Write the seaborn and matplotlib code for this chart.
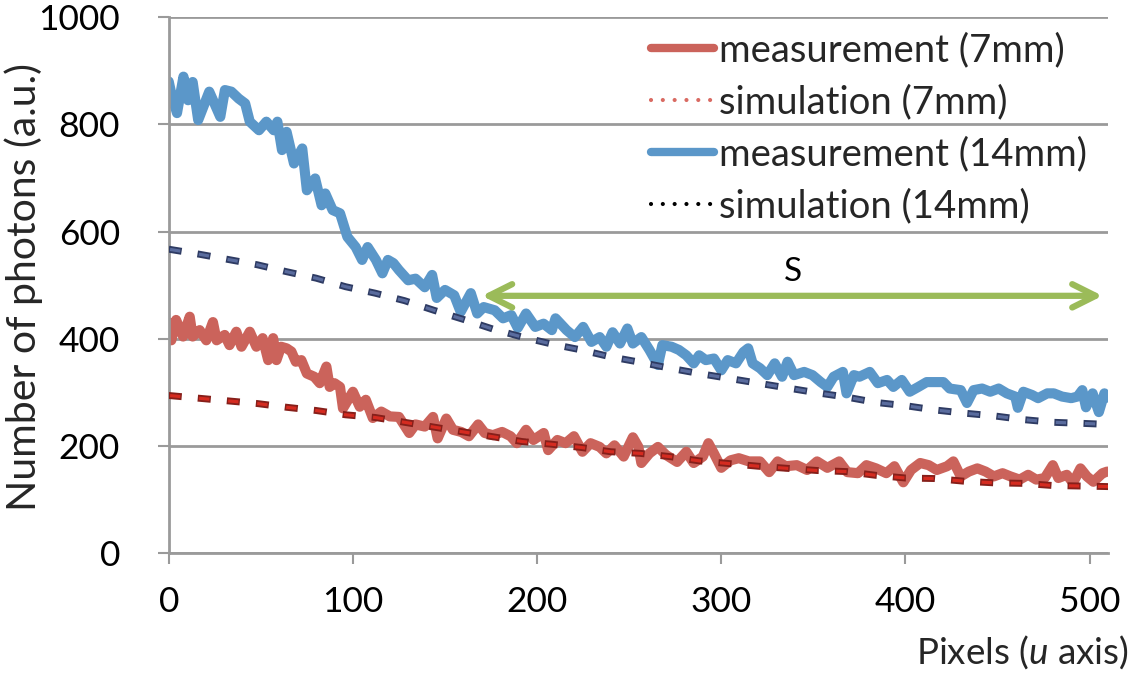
import matplotlib
matplotlib.use("Agg")
import matplotlib.pyplot as plt
from matplotlib.lines import Line2D
import seaborn as sns
import pandas as pd

# Measured photon counts along the u axis (pixel position, counts)
meas14_x = [0, 1.8, 4.5, 8, 10.5, 13, 16, 19.5, 22, 28, 30.5, 34, 38, 41.5, 44, 49, 53, 57, 59,
            61.5, 64, 68, 72.5, 75, 79.5, 83, 85, 89, 93, 97, 101.5, 105, 108, 112.5, 116, 119,
            122, 125, 130, 134, 139, 143, 145.5, 150, 155, 158.5, 164, 167.5, 171, 177, 181.5,
            186, 189.5, 194, 199, 203.5, 208, 210, 216, 220.5, 225, 229.5, 234, 237.6, 241, 245,
            249, 252, 256.6, 261, 265.6, 268, 273, 277, 281, 285, 288, 291.6, 296, 300, 303.5,
            308, 312, 314.6, 317, 321, 325, 329, 333, 336, 339.5, 345, 349.5, 354, 357.6, 361,
            366, 368, 372, 375, 380.6, 385, 390, 393.4, 398, 402.3, 407, 411.5, 416, 420.6, 424,
            430, 433.4, 437, 441.6, 446, 450.6, 455, 459.6, 461, 464, 468.7, 472, 477, 480.5,
            485, 490, 493.4, 496, 498, 501.6, 505, 508, 510]
meas14_y = [880, 851, 821, 889, 845, 879, 808, 839, 861, 814, 864, 861, 848, 839, 805, 789, 805,
            789, 805, 752, 786, 727, 755, 677, 699, 649, 671, 640, 634, 590, 571, 547, 571, 547,
            522, 547, 541, 528, 509, 512, 496, 519, 476, 491, 481, 450, 485, 447, 459, 453, 438,
            444, 420, 447, 422, 428, 416, 438, 416, 403, 422, 394, 403, 385, 412, 391, 419, 391,
            403, 379, 351, 388, 385, 379, 369, 354, 369, 360, 363, 341, 360, 354, 375, 382, 354,
            345, 332, 354, 329, 357, 332, 338, 332, 319, 310, 329, 338, 298, 332, 329, 338, 317,
            323, 310, 323, 301, 310, 319, 319, 319, 307, 304, 280, 304, 307, 301, 307, 298, 292,
            271, 301, 295, 289, 298, 298, 292, 289, 292, 304, 272, 298, 263, 298, 290]

meas7_x = [0, 1.4, 4, 7.8, 11.4, 13, 16.8, 20.4, 24, 26, 30.4, 33, 36.7, 39.5, 44, 47.6, 51, 54,
           56.7, 58.5, 61, 64, 66.6, 69, 72, 75, 79, 82, 85.6, 87.4, 90, 93, 94.6, 97.4, 100,
           103.7, 107, 110.8, 115.4, 120, 125, 130.6, 134, 139, 143.5, 146, 150.7, 154.3, 158.8,
           163, 168, 171.6, 176, 181, 185.6, 189, 194, 198, 203.6, 206, 211, 215.5, 220, 224.6,
           229, 234, 237.6, 242, 247, 252, 255, 256.6, 261, 265.6, 270, 276, 281, 285, 290, 293,
           296, 300, 305, 309.5, 315, 321, 326, 330.6, 335, 341, 346.6, 352, 357.6, 364, 368.4,
           374.2, 378.8, 384, 389.6, 394, 398.8, 403, 408, 412.6, 417, 422.6, 426, 430, 434.4,
           439, 443.5, 448, 452.7, 457, 462, 466.6, 471, 475.6, 480, 483, 487.6, 491, 495,
           498.5, 502, 507, 509.5]
meas7_y = [430, 397, 435, 404, 441, 404, 416, 397, 431, 397, 407, 388, 413, 385, 413, 385, 401,
           360, 401, 360, 385, 382, 376, 357, 360, 335, 329, 317, 348, 310, 317, 310, 270, 286,
           301, 273, 286, 252, 264, 255, 254, 224, 240, 236, 254, 214, 251, 230, 226, 218, 240,
           224, 220, 226, 218, 205, 230, 211, 224, 192, 211, 205, 218, 189, 205, 198, 186, 201,
           180, 216, 198, 168, 186, 198, 183, 170, 189, 168, 180, 205, 186, 159, 173, 177, 171,
           171, 151, 171, 162, 164, 155, 171, 159, 171, 151, 149, 164, 158, 149, 162, 132, 155,
           168, 164, 155, 162, 171, 143, 152, 158, 152, 143, 149, 143, 137, 146, 137, 140, 164,
           140, 146, 131, 158, 143, 133, 149, 152]

# Simulated profiles
sim_x = [0, 16, 32, 48, 64, 80, 96, 112, 128, 144, 160, 176, 192, 208, 224, 240, 256, 272, 288,
         304, 320, 336, 352, 368, 384, 400, 416, 432, 448, 464, 480, 496, 510]
sim14_y = [567, 558, 548, 538, 525, 513, 497, 485, 471, 453, 436, 418, 403, 390, 379, 366, 356,
           345, 335, 326, 317, 308, 299, 291, 281, 275, 267, 261, 256, 249, 244, 242, 240]
sim7_y = [294, 289, 284, 279, 272, 266, 258, 253, 244, 235, 226, 217, 208, 203, 197, 189, 186,
          180, 172, 167, 162, 158, 154, 152, 145, 140, 139, 134, 131, 130, 126, 125, 124]

legend_labels = ["measurement (7mm)", "simulation (7mm)", "measurement (14mm)", "simulation (14mm)"]
span_label = "S"
span_from, span_to, span_level = 170, 507, 480
span_label_pos = (339, 524)

sns.set_theme(style="white")
plt.rcParams["font.family"] = ["Lato", "DejaVu Sans"]
plt.rcParams["mathtext.fontset"] = "custom"
plt.rcParams["mathtext.rm"] = "Lato"
plt.rcParams["mathtext.it"] = "Lato:italic"
plt.rcParams["lines.scale_dashes"] = False

RED = "#CB635B"
BLUE = "#5B97C9"
GRID = "#9a9a9a"

fig = plt.figure(figsize=(11.4, 6.87), dpi=100)
ax = fig.add_axes([0.148, 0.195, 0.824, 0.780])

# measured profiles
for xs, ys, col in [(meas7_x, meas7_y, RED), (meas14_x, meas14_y, BLUE)]:
    df = pd.DataFrame({"x": xs, "y": ys})
    sns.lineplot(data=df, x="x", y="y", ax=ax, color=col, lw=7.3, estimator=None,
                 sort=False, zorder=2)
    ax.lines[-1].set_solid_joinstyle("round")
    ax.lines[-1].set_solid_capstyle("round")

# simulation curves: dark-edged dashes with a brighter core
for ys, outer, inner in [(sim14_y, "#2e3b63", "#5a6c9e"), (sim7_y, "#861f1a", "#d52b20")]:
    df = pd.DataFrame({"x": sim_x, "y": ys})
    for col, w, style in [(outer, 5.0, (0, (9.4, 11.6))), (inner, 2.3, (20.0, (7.4, 13.6)))]:
        sns.lineplot(data=df, x="x", y="y", ax=ax, color=col, lw=w, estimator=None, zorder=3)
        ln = ax.lines[-1]
        ln.set_linestyle(style)
        ln.set_dash_capstyle("butt")

# measurement range arrow
ax.annotate("", xy=(span_to, span_level), xytext=(span_from, span_level),
            arrowprops=dict(arrowstyle="<->", color="#9BBB59", lw=4.5, mutation_scale=42,
                            shrinkA=0, shrinkB=0), zorder=5)
ax.text(span_label_pos[0], span_label_pos[1], span_label, fontsize=24,
        ha="center", va="center", color="black")

ax.set_xlim(0, 510)
ax.set_ylim(0, 1000)
ax.set_yticks([0, 200, 400, 600, 800, 1000])
ax.set_xticks([0, 100, 200, 300, 400, 500])
ax.yaxis.grid(True, color=GRID, lw=2)
ax.xaxis.grid(False)
ax.set_axisbelow(True)
for side in ["top", "right"]:
    ax.spines[side].set_visible(False)
for side in ["left", "bottom"]:
    ax.spines[side].set_color(GRID)
    ax.spines[side].set_linewidth(2)
ax.tick_params(axis="both", which="major", length=8, width=1.5, color=GRID,
               labelsize=25.5, labelcolor="black", direction="out", left=True, bottom=True)
ax.tick_params(axis="y", pad=27)
ax.tick_params(axis="x", pad=16)

ax.set_ylabel("Number of photons (a.u.)", fontsize=29.5)
ax.yaxis.set_label_coords(-0.134, 0.497)
ax.set_xlabel("")
fig.text(0.99, 0.051, r"Pixels ($\it{u}$ axis)", fontsize=26.5, ha="right", va="center")

handles = [
    Line2D([], [], color=RED, lw=6, solid_capstyle="round"),
    Line2D([], [], color="#D96A62", lw=3, linestyle=(0, (0.01, 8.5)), dash_capstyle="round"),
    Line2D([], [], color=BLUE, lw=6, solid_capstyle="round"),
    Line2D([], [], color="black", lw=3, linestyle=(0, (0.01, 8.5)), dash_capstyle="round"),
]
leg = fig.legend(handles, legend_labels, loc="upper left",
                 bbox_to_anchor=(0.554, 0.981), frameon=False, fontsize=27.5,
                 handlelength=1.67, handletextpad=0.13, labelspacing=0.42, borderpad=0)

fig.savefig("out.png", dpi=100)
